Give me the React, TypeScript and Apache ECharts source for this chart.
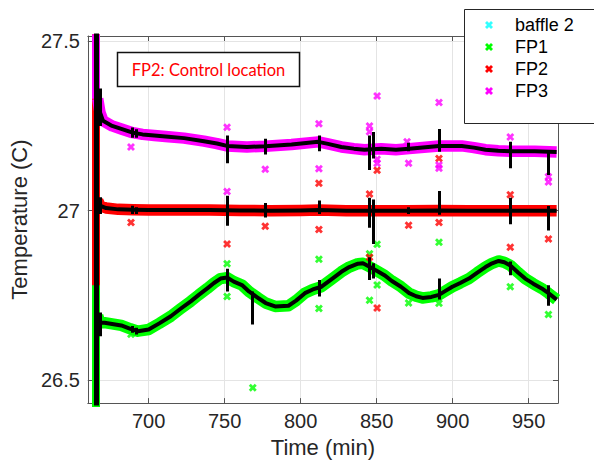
import React, { useEffect, useRef } from "react";
import * as echarts from "echarts";

// ---- axis ticks ----
const xTickLabels = [700, 750, 800, 850, 900, 950];
const yTickLabels = [26.5, 27, 27.5];

// ---- start-up transient (time, low / high readings) ----
const startTime = 665.3;
const fp1Start = [27.06, 26.4];
const fp2Start = [27.52, 26.78];
const fp3Start = [27.52, 27.33];
const startSpike = [26.38, 27.56];

// ---- smoothed traces [time (min), temperature (C)] ----
const fp1Trace: [number, number][] = [
  [666.5, 26.69], [668, 26.67], [671, 26.67], [682, 26.662], [688, 26.652], [693, 26.645],
  [700, 26.65], [707, 26.668], [714.6, 26.689], [721, 26.711], [727.7, 26.733], [733, 26.752],
  [738.6, 26.771], [743, 26.787], [747.3, 26.8], [751.6, 26.803], [756, 26.791], [761.4, 26.781],
  [766, 26.762], [772.3, 26.742], [777, 26.728], [783.2, 26.718], [792, 26.72], [797, 26.735],
  [802.8, 26.757], [808, 26.768], [813.7, 26.776], [820, 26.797], [826.8, 26.82], [832, 26.834],
  [837.7, 26.844], [841, 26.845], [845.3, 26.835], [850, 26.823], [855.1, 26.81], [860, 26.793],
  [866, 26.776], [871.4, 26.757], [876, 26.748], [880.2, 26.743], [886, 26.746], [891, 26.752],
  [895, 26.763], [899.8, 26.776], [905, 26.787], [910.7, 26.8], [916, 26.817], [921.6, 26.834],
  [926, 26.845], [930.3, 26.852], [934, 26.848], [937.9, 26.839], [943, 26.818], [947.7, 26.8],
  [953, 26.785], [958.6, 26.771], [963, 26.757], [968.4, 26.738],
];
const fp2Trace: [number, number][] = [
  [666.5, 27.03], [668, 27.015], [672, 27.008], [680, 27.004], [690, 27.003], [700, 27.002],
  [720, 27.002], [740, 27.002], [760, 27.001], [780, 27.0], [800, 27.001], [812, 27.002],
  [830, 27.0], [850, 27.0], [870, 27.0], [890, 27.001], [910, 27.0], [930, 27.0], [950, 27.0],
  [968.4, 27.0],
];
const fp3Trace: [number, number][] = [
  [666.5, 27.33], [668, 27.29], [670, 27.265], [676, 27.25], [682, 27.241], [689.5, 27.23],
  [696, 27.225], [703.7, 27.222], [713, 27.218], [723.3, 27.214], [736.4, 27.205], [745, 27.198],
  [751.6, 27.191], [764.7, 27.188], [776.7, 27.19], [794, 27.195], [811.6, 27.203], [818, 27.197],
  [826.8, 27.188], [835, 27.183], [842, 27.18], [853, 27.183], [862.7, 27.18], [871.4, 27.183],
  [891, 27.191], [906, 27.191], [914, 27.186], [921.6, 27.18], [930, 27.177], [937.9, 27.175],
  [954, 27.175], [968.4, 27.173],
];

// ---- glitches in the smoothed traces [time, low, high] ----
const fp1Spikes: [number, number, number][] = [
  [668, 26.63, 26.7], [689, 26.64, 26.66], [692, 26.635, 26.655], [751.6, 26.762, 26.829],
  [768, 26.665, 26.762], [812, 26.747, 26.796], [845, 26.796, 26.863], [848, 26.8, 26.845],
  [891, 26.738, 26.8], [938, 26.81, 26.85], [963, 26.72, 26.78],
];
const fp2Spikes: [number, number, number][] = [
  [668, 26.99, 27.04], [689, 26.99, 27.015], [692, 26.99, 27.01], [751.6, 26.956, 27.044],
  [776.7, 26.98, 27.023], [812, 26.99, 27.03], [845, 26.95, 27.038], [848, 26.902, 27.033],
  [871, 26.99, 27.01], [891, 26.988, 27.058], [938, 26.96, 27.038], [963, 26.942, 27.014],
];
const fp3Spikes: [number, number, number][] = [
  [668, 27.25, 27.36], [689, 27.215, 27.245], [692, 27.215, 27.24], [751.6, 27.14, 27.222],
  [776.7, 27.166, 27.212], [812, 27.175, 27.222], [845, 27.12, 27.222], [848, 27.154, 27.232],
  [871, 27.175, 27.2], [891, 27.174, 27.241], [938, 27.125, 27.203], [963, 27.105, 27.178],
];

// ---- isolated raw readings [time, temperature] ----
const baffle2Points: [number, number][] = [];
const fp1Outliers: [number, number][] = [
  [688.4, 26.636], [751.6, 26.844], [751.6, 26.747], [768.5, 26.478], [812, 26.857], [812, 26.712],
  [845.3, 26.873], [845.3, 26.736], [850.3, 26.901], [850.3, 26.781], [871, 26.728], [891, 26.907],
  [891, 26.727], [937.9, 26.776], [963, 26.694],
];
const fp2Outliers: [number, number][] = [
  [688.4, 26.965], [751.6, 26.902], [776.7, 26.954], [812, 27.081], [812, 26.945], [845.3, 27.049],
  [845.3, 26.863], [850.3, 27.119], [850.3, 26.713], [871, 26.957], [891, 27.154], [891, 26.965],
  [937.9, 27.047], [937.9, 26.892], [963, 26.917],
];
const fp3Outliers: [number, number][] = [
  [688.4, 27.188], [751.6, 27.246], [751.6, 27.057], [776.7, 27.122], [812, 27.256], [812, 27.124],
  [845.3, 27.25], [845.3, 27.233], [850.3, 27.338], [850.3, 27.152], [850.3, 27.14], [870, 27.203],
  [871, 27.14], [891, 27.319], [891, 27.135], [891, 27.125], [937.9, 27.217], [963, 27.1], [963, 27.085],
];

const X_ICON =
  "path://M2.5,0 L5,2.5 L7.5,0 L10,2.5 L7.5,5 L10,7.5 L7.5,10 L5,7.5 L2.5,10 L0,7.5 L2.5,5 L0,2.5 Z";

const CYAN = "#00ffff";
const GREEN = "#00ff00";
const RED = "#ff0000";
const MAGENTA = "#ff00ff";
const FONT = "Liberation Sans";
const AXIS_TEXT = "#262626";

function band(name: string, color: string, trace: [number, number][]) {
  return {
    name,
    type: "line",
    data: trace,
    showSymbol: false,
    symbol: X_ICON,
    itemStyle: { color },
    lineStyle: { color, width: 11.5, cap: "butt", join: "round" },
    z: 2,
  };
}

function startBand(name: string, color: string, range: number[]) {
  return {
    name,
    type: "lines",
    coordinateSystem: "cartesian2d",
    clip: true,
    data: [{ coords: [[startTime, range[0]], [startTime, range[1]]] }],
    lineStyle: { color, width: 8, opacity: 1 },
    z: 2,
  };
}

function outliers(name: string, color: string, pts: [number, number][]) {
  return {
    name,
    type: "scatter",
    data: pts,
    symbol: X_ICON,
    symbolSize: 8,
    itemStyle: { color },
    z: 3,
  };
}

function blackTrace(name: string, trace: [number, number][]) {
  return {
    name,
    type: "line",
    data: trace,
    showSymbol: false,
    lineStyle: { color: "#000", width: 4, join: "round" },
    itemStyle: { color: "#000" },
    z: 5,
  };
}

function spikes(name: string, sp: [number, number, number][]) {
  return {
    name,
    type: "lines",
    coordinateSystem: "cartesian2d",
    clip: true,
    data: sp.map(([t, lo, hi]) => ({ coords: [[t, lo], [t, hi]] })),
    lineStyle: { color: "#000", width: 3, opacity: 1 },
    z: 6,
  };
}

export default function App() {
  const ref = useRef<HTMLDivElement>(null);
  useEffect(() => {
    document.body.style.margin = "0";
    if (!ref.current) return;
    const chart = echarts.init(ref.current, null, { renderer: "svg" });
    const axisLine = { show: true, lineStyle: { color: "#555", width: 1 } };
    const tick = { show: true, inside: true, length: 5, lineStyle: { color: "#555" } };
    chart.setOption({
      animation: false,
      backgroundColor: "#fff",
      grid: { left: 85, right: 36, top: 36, bottom: 55 },
      xAxis: [
        {
          type: "value",
          min: 660,
          max: 969.3,
          splitNumber: 6,
          axisLine,
          axisTick: tick,
          splitLine: { show: true, lineStyle: { color: "#e4e4e4", width: 1 } },
          axisLabel: {
            color: AXIS_TEXT,
            fontFamily: FONT,
            fontSize: 20,
            margin: 8,
            showMinLabel: false,
            showMaxLabel: false,
            formatter: (v: number) => (xTickLabels.includes(v) ? String(v) : ""),
          },
          name: "Time (min)",
          nameLocation: "middle",
          nameGap: 27,
          nameTextStyle: { color: AXIS_TEXT, fontFamily: FONT, fontSize: 22 },
        },
        {
          type: "value",
          position: "top",
          min: 660,
          max: 969.3,
          splitNumber: 6,
          axisLine,
          axisTick: tick,
          axisLabel: { show: false },
          splitLine: { show: false },
        },
      ],
      yAxis: [
        {
          type: "value",
          min: 26.433,
          max: 27.515,
          splitNumber: 2,
          axisLine,
          axisTick: tick,
          splitLine: { show: true, lineStyle: { color: "#e4e4e4", width: 1 } },
          axisLabel: {
            color: AXIS_TEXT,
            fontFamily: FONT,
            fontSize: 20,
            margin: 8,
            showMinLabel: false,
            showMaxLabel: false,
            formatter: (v: number) => (yTickLabels.includes(v) ? String(v) : ""),
          },
          name: "Temperature (C)",
          nameLocation: "middle",
          nameGap: 52,
          nameTextStyle: { color: AXIS_TEXT, fontFamily: FONT, fontSize: 22 },
        },
        {
          type: "value",
          position: "right",
          min: 26.433,
          max: 27.515,
          splitNumber: 2,
          axisLine,
          axisTick: tick,
          axisLabel: { show: false },
          splitLine: { show: false },
        },
      ],
      legend: {
        orient: "vertical",
        left: 480,
        top: 11,
        padding: 5,
        itemWidth: 42,
        itemHeight: 8,
        itemGap: 4,
        symbolKeepAspect: true,
        textStyle: { color: "#000", fontFamily: FONT, fontSize: 18, lineHeight: 18 },
        data: [
          { name: "baffle 2", icon: X_ICON, itemStyle: { color: CYAN } },
          { name: "FP1", icon: X_ICON, itemStyle: { color: GREEN } },
          { name: "FP2", icon: X_ICON, itemStyle: { color: RED } },
          { name: "FP3", icon: X_ICON, itemStyle: { color: MAGENTA } },
        ],
        z: 20,
      },
      graphic: [
        {
          type: "rect",
          z: 15,
          shape: { x: 464.5, y: 9.5, width: 140, height: 114 },
          style: { fill: "#fff", stroke: "#262626", lineWidth: 1 },
        },
        {
          type: "rect",
          z: 15,
          shape: { x: 117.5, y: 52.5, width: 182, height: 34 },
          style: { fill: "#fff", stroke: "#111", lineWidth: 1.5 },
        },
        {
          type: "text",
          z: 16,
          x: 208.5,
          y: 70,
          style: {
            text: "FP2: Control location",
            fill: RED,
            fontFamily: "Lato",
            fontSize: 16.5,
            align: "center",
            verticalAlign: "middle",
          },
        },
      ],
      series: [
        outliers("baffle 2", CYAN, baffle2Points),
        band("FP1", GREEN, fp1Trace),
        band("FP2", RED, fp2Trace),
        band("FP3", MAGENTA, fp3Trace),
        startBand("FP1 start", GREEN, fp1Start),
        startBand("FP2 start", RED, fp2Start),
        startBand("FP3 start", MAGENTA, fp3Start),
        outliers("FP1", GREEN, fp1Outliers),
        outliers("FP2", RED, fp2Outliers),
        outliers("FP3", MAGENTA, fp3Outliers),
        blackTrace("FP1 smooth", fp1Trace),
        blackTrace("FP2 smooth", fp2Trace),
        blackTrace("FP3 smooth", fp3Trace),
        spikes("FP1 glitch", fp1Spikes),
        spikes("FP2 glitch", fp2Spikes),
        spikes("FP3 glitch", fp3Spikes),
        {
          name: "start-up",
          type: "lines",
          coordinateSystem: "cartesian2d",
          clip: true,
          data: [{ coords: [[startTime, startSpike[0]], [startTime, startSpike[1]]] }],
          lineStyle: { color: "#000", width: 5, opacity: 1 },
          z: 6,
        },
      ],
    });
    return () => chart.dispose();
  }, []);
  return <div ref={ref} style={{ width: 594, height: 463 }} />;
}
